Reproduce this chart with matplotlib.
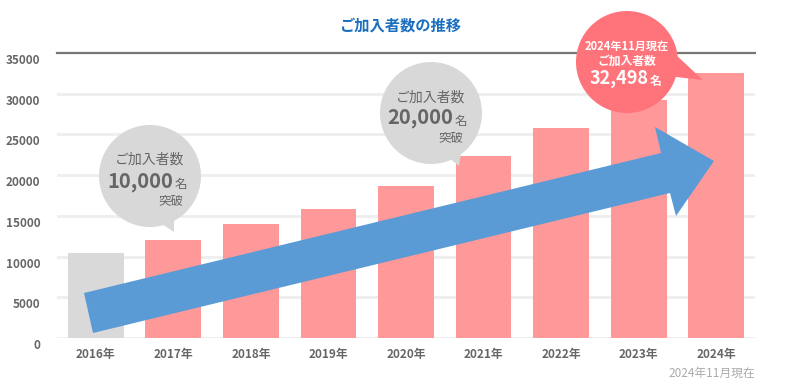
import matplotlib
matplotlib.use('Agg')
import matplotlib.pyplot as plt
import matplotlib.transforms as mtransforms
from matplotlib.patches import Circle, Polygon

plt.rcParams['font.family'] = ['Noto Sans CJK JP', 'DejaVu Sans']

# data
years = ['2016年', '2017年', '2018年', '2019年', '2020年', '2021年', '2022年', '2023年', '2024年']
members = [10500, 12000, 14000, 15900, 18700, 22400, 25800, 29200, 32498]
yticks = [0, 5000, 10000, 15000, 20000, 25000, 30000, 35000]
title = 'ご加入者数の推移'
note = '2024年11月現在'

PINK = '#ff9999'
GRAY_BAR = '#d9d9d9'
BUBBLE_GRAY = '#d8d8d8'
BUBBLE_RED = '#ff737a'
BLUE = '#5b9bd5'
TXT = '#666666'

fig = plt.figure(figsize=(8, 3.84), dpi=100)
ax = fig.add_axes([57 / 800, 46 / 384, 698 / 800, 285 / 384])

colors = [GRAY_BAR] + [PINK] * (len(years) - 1)
ax.bar(range(len(years)), members, width=0.72, color=colors, zorder=2)

ax.set_xlim(-0.5, len(years) - 0.5)
ax.set_ylim(0, 35000)
ax.set_yticks(yticks)
ax.set_yticklabels([str(v) for v in yticks])
ax.set_xticks(range(len(years)))
ax.set_xticklabels(years)

# grid
for v in yticks[:-1]:
    ax.axhline(v, color='#eeeeee', lw=2, zorder=1)
ax.axhline(35000, color='#777777', lw=1.6, zorder=1, clip_on=False)

for s in ax.spines.values():
    s.set_visible(False)
ax.tick_params(length=0)
ax.tick_params(axis='y', pad=12)
ax.tick_params(axis='x', pad=7)
for lab in ax.get_yticklabels():
    lab.set_fontsize(8.5)
    lab.set_fontweight('bold')
    lab.set_color(TXT)
    lab.set_transform(lab.get_transform() + mtransforms.ScaledTranslation(0, -0.06, fig.dpi_scale_trans))
for lab in ax.get_xticklabels():
    lab.set_fontsize(8.5)
    lab.set_fontweight('bold')
    lab.set_color(TXT)

# pixel transform (origin top-left)
px = mtransforms.Affine2D().scale(1 / 800, -1 / 384).translate(0, 1) + fig.transFigure

fig.text(400, 26, title, transform=px, ha='center', va='center',
         fontsize=11, fontweight='bold', color='#1a70bf')
fig.text(755, 373, note, transform=px, ha='right', va='center',
         fontsize=8.5, color='#aaaaaa')

# arrow
arrow = Polygon([(84, 293), (661, 153), (655, 127), (714, 161), (676, 216), (670, 193), (93, 333)],
                closed=True, transform=px, facecolor=BLUE, edgecolor='none', zorder=5)
fig.add_artist(arrow)

# bubble 1
fig.add_artist(Circle((150, 176), 51, transform=px, facecolor=BUBBLE_GRAY, edgecolor='none', zorder=6))
fig.add_artist(Polygon([(162, 224), (174, 219), (174, 232)], transform=px,
                       facecolor=BUBBLE_GRAY, edgecolor='none', zorder=6))
fig.text(150, 160, 'ご加入者数', transform=px, ha='center', va='center', fontsize=10, color=TXT, zorder=7)
fig.text(173, 181, '10,000', transform=px, ha='right', va='center', fontsize=14.5,
         fontweight='bold', color=TXT, zorder=7)
fig.text(175, 184, '名', transform=px, ha='left', va='center', fontsize=9, color=TXT, zorder=7)
fig.text(183, 201, '突破', transform=px, ha='right', va='center', fontsize=9, color=TXT, zorder=7)

# bubble 2
fig.add_artist(Circle((431, 113), 51, transform=px, facecolor=BUBBLE_GRAY, edgecolor='none', zorder=6))
fig.add_artist(Polygon([(449, 158), (461, 153), (459, 166)], transform=px,
                       facecolor=BUBBLE_GRAY, edgecolor='none', zorder=6))
fig.text(431, 98, 'ご加入者数', transform=px, ha='center', va='center', fontsize=10, color=TXT, zorder=7)
fig.text(453, 118, '20,000', transform=px, ha='right', va='center', fontsize=14.5,
         fontweight='bold', color=TXT, zorder=7)
fig.text(455, 121, '名', transform=px, ha='left', va='center', fontsize=9, color=TXT, zorder=7)
fig.text(463, 138, '突破', transform=px, ha='right', va='center', fontsize=9, color=TXT, zorder=7)

# bubble red
fig.add_artist(Circle((627, 62), 51, transform=px, facecolor=BUBBLE_RED, edgecolor='none', zorder=6))
fig.add_artist(Polygon([(676, 55), (667, 76), (703, 80)], transform=px,
                       facecolor=BUBBLE_RED, edgecolor='none', zorder=6))
fig.text(627, 46, '2024年11月現在', transform=px, ha='center', va='center', fontsize=8,
         fontweight='bold', color='white', zorder=7)
fig.text(627, 61, 'ご加入者数', transform=px, ha='center', va='center', fontsize=8.5,
         fontweight='bold', color='white', zorder=7)
fig.text(649, 78, '32,498', transform=px, ha='right', va='center', fontsize=13,
         fontweight='bold', color='white', zorder=7)
fig.text(650, 81, '名', transform=px, ha='left', va='center', fontsize=8.5,
         fontweight='bold', color='white', zorder=7)

fig.savefig('out.png', dpi=100)
